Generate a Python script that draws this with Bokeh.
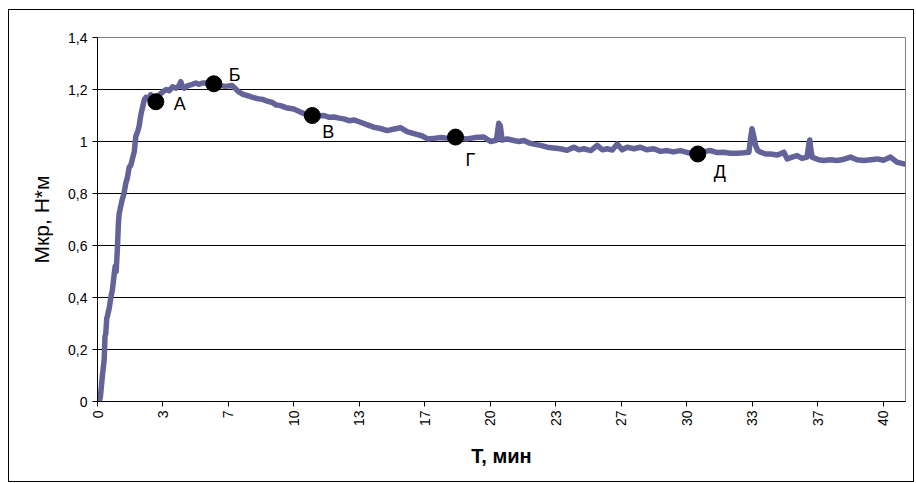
import math
from bokeh.plotting import figure
from bokeh.models import ColumnDataSource, FixedTicker
from bokeh.core.properties import value
from bokeh.embed import file_html
from bokeh.resources import INLINE

# ---- data ----
t_min = [0.00, 0.15, 0.25, 0.34, 0.38, 0.42, 0.47, 0.51, 0.60, 0.68, 0.76, 0.85, 0.90, 0.95,
         1.02, 1.06, 1.10, 1.18, 1.27, 1.35, 1.44, 1.52, 1.61, 1.70, 1.80, 1.87, 1.95, 2.05,
         2.12, 2.20, 2.29, 2.38, 2.46, 2.60, 2.71, 2.85, 2.97, 3.15, 3.31, 3.50, 3.65, 3.82,
         4.00, 4.15, 4.24, 4.33, 4.41, 4.60, 4.83, 5.00, 5.15, 5.34, 5.60, 5.92, 6.20, 6.50,
         6.85, 7.00, 7.20, 7.45, 7.70, 7.90, 8.13, 8.40, 8.64, 8.90, 9.10, 9.31, 9.60, 9.99,
         10.33, 10.60, 10.93, 11.20, 11.52, 11.80, 12.03, 12.30, 12.53, 12.80, 13.05, 13.38,
         13.70, 14.06, 14.40, 14.74, 15.10, 15.42, 15.75, 16.10, 16.50, 16.80, 17.11, 17.50,
         17.85, 18.22, 18.50, 18.81, 19.20, 19.66, 20.00, 20.30, 20.42, 20.50, 20.59, 20.85,
         21.19, 21.45, 21.70, 21.95, 22.20, 22.55, 22.89, 23.20, 23.56, 23.90, 24.24, 24.50,
         24.75, 25.10, 25.43, 25.70, 25.94, 26.20, 26.45, 26.70, 26.96, 27.30, 27.63, 27.95,
         28.31, 28.65, 28.99, 29.30, 29.67, 30.00, 30.55, 30.90, 31.20, 31.50, 31.87, 32.20,
         32.55, 32.90, 33.15, 33.25, 33.31, 33.40, 33.49, 33.60, 33.74, 34.00, 34.25, 34.60,
         34.93, 35.10, 35.35, 35.60, 35.85, 36.11, 36.20, 36.25, 36.30, 36.37, 36.70, 36.96,
         37.30, 37.64, 38.00, 38.32, 38.65, 39.00, 39.35, 39.68, 40.00, 40.36, 40.70, 41.04,
         41.12]
torque = [-0.03, 0.02, 0.10, 0.16, 0.25, 0.26, 0.32, 0.33, 0.36, 0.40, 0.43, 0.49, 0.52, 0.50,
          0.60, 0.68, 0.72, 0.75, 0.78, 0.80, 0.84, 0.86, 0.90, 0.91, 0.94, 0.96, 1.02, 1.04,
          1.06, 1.10, 1.13, 1.16, 1.17, 1.165, 1.18, 1.17, 1.16, 1.18, 1.19, 1.20, 1.195, 1.21,
          1.205, 1.215, 1.23, 1.21, 1.205, 1.215, 1.22, 1.225, 1.22, 1.225, 1.225, 1.221, 1.215, 1.212,
          1.215, 1.205, 1.19, 1.18, 1.175, 1.17, 1.165, 1.162, 1.155, 1.15, 1.14, 1.138, 1.13, 1.125,
          1.113, 1.105, 1.10, 1.098, 1.10, 1.093, 1.094, 1.09, 1.087, 1.08, 1.083, 1.074,
          1.065, 1.055, 1.05, 1.042, 1.048, 1.053, 1.038, 1.03, 1.022, 1.01, 1.012, 1.015,
          1.012, 1.017, 1.012, 1.010, 1.015, 1.017, 1.00, 1.005, 1.07, 1.06, 1.005, 1.01,
          1.004, 1.00, 1.004, 0.995, 0.99, 0.985, 0.978, 0.975, 0.972, 0.966, 0.978, 0.968,
          0.972, 0.965, 0.985, 0.968, 0.972, 0.967, 0.99, 0.968, 0.978, 0.972, 0.978, 0.968,
          0.972, 0.962, 0.965, 0.96, 0.965, 0.958, 0.952, 0.962, 0.965, 0.958, 0.959, 0.955,
          0.955, 0.957, 0.959, 1.02, 1.049, 1.02, 0.985, 0.965, 0.959, 0.952, 0.952, 0.948,
          0.959, 0.933, 0.94, 0.946, 0.935, 0.94, 0.99, 1.006, 0.97, 0.94, 0.93, 0.927,
          0.93, 0.927, 0.932, 0.94, 0.93, 0.927, 0.93, 0.933, 0.928, 0.94, 0.92, 0.914,
          0.912]

point_t = [2.97, 5.92, 10.93, 18.22, 30.55]
point_v = [1.153, 1.222, 1.10, 1.017, 0.952]
point_names = ["А", "Б", "В", "Г", "Д"]

y_ticks = [0, 0.2, 0.4, 0.6, 0.8, 1.0, 1.2, 1.4]
y_tick_labels = ["0", "0,2", "0,4", "0,6", "0,8", "1", "1,2", "1,4"]
x_tick_labels = ["0", "3", "7", "10", "13", "17", "20", "23", "27", "30", "33", "37", "40"]
x_ticks = [k * 10.0 / 3.0 for k in range(len(x_tick_labels))]

# label placement (screen px) relative to the markers
lab_dx = [18, 15, 10, 10, 16]
lab_dy = [2.5, -9, 16, 23, 18]

FONT = "Liberation Sans"

# chart box at x 9..913, y 10..481 ; plot frame at x 97..905, y 37..401
p = figure(width=904, height=471, output_backend="svg", toolbar_location=None,
           x_range=(0, 41.12), y_range=(0, 1.4),
           min_border_left=88, min_border_right=8, min_border_top=27, min_border_bottom=80)
p.margin = (10, 3, 2, 9)
p.styles = {"outline": "1px solid black"}
p.background_fill_color = "white"
p.border_fill_color = "white"
p.outline_line_color = "#808080"
p.outline_line_width = 1

# axes
p.xaxis.ticker = FixedTicker(ticks=x_ticks)
p.xaxis.major_label_overrides = {t: s for t, s in zip(x_ticks, x_tick_labels)}
p.xaxis.major_label_orientation = math.pi / 2
p.yaxis.ticker = FixedTicker(ticks=y_ticks)
p.yaxis.major_label_overrides = {t: s for t, s in zip(y_ticks, y_tick_labels)}
for ax in (p.xaxis, p.yaxis):
    ax.axis_line_color = "black"
    ax.major_tick_line_color = "black"
    ax.major_tick_out = 5
    ax.major_tick_in = 0
    ax.minor_tick_line_color = None
    ax.major_label_text_font = FONT
    ax.major_label_text_font_size = "14px"
    ax.major_label_text_color = "black"
    ax.axis_label_text_font = FONT
    ax.axis_label_text_color = "black"
p.xaxis.axis_label = "T, мин"
p.xaxis.axis_label_text_font_style = "bold"
p.xaxis.axis_label_text_font_size = "20px"
p.xaxis.axis_label_standoff = 16
p.xaxis.major_label_standoff = 4
p.yaxis.axis_label = "Мкр, Н*м"
p.yaxis.axis_label_text_font_style = "normal"
p.yaxis.axis_label_text_font_size = "21px"
p.yaxis.axis_label_standoff = 12
p.yaxis.major_label_standoff = 5

p.xgrid.grid_line_color = None
p.ygrid.grid_line_color = "black"
p.ygrid.grid_line_width = 1

# curve
p.line(t_min, torque, line_color="#636399", line_width=5.5, line_join="round")

# marked points
src = ColumnDataSource(dict(t=point_t, v=point_v, name=point_names, dx=lab_dx, dy=lab_dy))
p.scatter("t", "v", source=src, size=16, marker="circle", fill_color="black", line_color="black")
p.text("t", "v", text="name", source=src, x_offset="dx", y_offset="dy",
       text_font=value(FONT), text_font_size="18px", text_color="black",
       text_align="left", text_baseline="middle")

open("out.html", "w").write(file_html(p, INLINE))
